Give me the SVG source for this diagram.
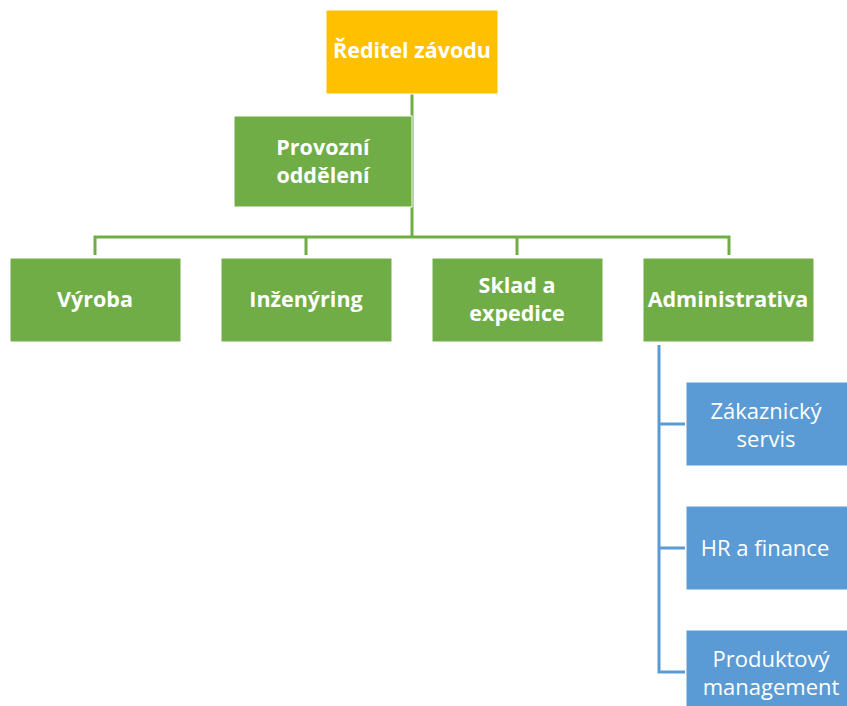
<svg xmlns="http://www.w3.org/2000/svg" width="847" height="706" viewBox="0 0 847 706">
<style>
.t{font-family:"Open Sans","Liberation Sans",sans-serif;font-size:21.5px;fill:#fff;text-anchor:middle}
.b{font-weight:bold}
.r{font-size:22px}
.g{fill:#70AD47;stroke:#fff;stroke-width:1}
.bl{fill:#5B9BD5;stroke:#fff;stroke-width:1}
.cg{stroke:#70AD47;stroke-width:3;fill:none}
.cb{stroke:#5B9BD5;stroke-width:3;fill:none}
</style>
<rect width="847" height="706" fill="#fff"/>
<g id="connectors">
<path class="cg" d="M412 94V237M95 255V237H729V255M306 237V255M517 237V255"/>
<path class="cb" d="M659 345V672H685M659 424H685M659 548H685"/>
</g>
<g id="n-reditel"><rect x="326" y="10" width="172" height="84" fill="#FFC000" stroke="#fff"/><text class="t b" x="412" y="58">Ředitel závodu</text></g>
<g id="n-provozni"><rect class="g" x="234" y="116" width="178" height="91"/><text class="t b" x="323" y="155">Provozní</text><text class="t b" x="323" y="183">oddělení</text></g>
<g id="n-vyroba"><rect class="g" x="10" y="258" width="171" height="84"/><text class="t b" x="95" y="307">Výroba</text></g>
<g id="n-inzenyring"><rect class="g" x="221" y="258" width="171" height="84"/><text class="t b" x="306" y="307">Inženýring</text></g>
<g id="n-sklad"><rect class="g" x="432" y="258" width="171" height="84"/><text class="t b" x="517" y="293">Sklad a</text><text class="t b" x="517" y="321">expedice</text></g>
<g id="n-admin"><rect class="g" x="643" y="258" width="171" height="84"/><text class="t b" x="728" y="307">Administrativa</text></g>
<g id="n-zakaznicky"><rect class="bl" x="686" y="382" width="170" height="84"/><text class="t r" x="766" y="419">Zákaznický</text><text class="t r" x="766" y="447">servis</text></g>
<g id="n-hr"><rect class="bl" x="686" y="506" width="170" height="84"/><text class="t r" x="765" y="556">HR a finance</text></g>
<g id="n-produktovy"><rect class="bl" x="686" y="630" width="170" height="84"/><text class="t r" x="771" y="667">Produktový</text><text class="t r" x="771" y="695">management</text></g>
</svg>
